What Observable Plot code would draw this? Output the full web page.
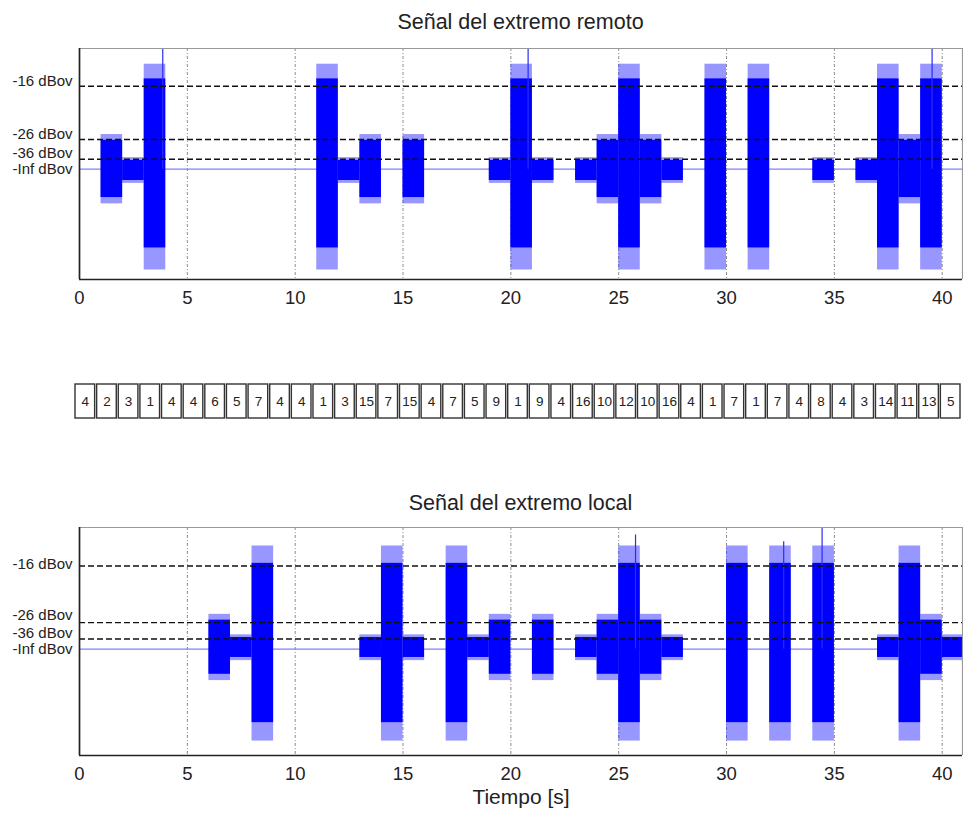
<!DOCTYPE html>
<html><head><meta charset="utf-8">
<script src="https://cdn.jsdelivr.net/npm/d3@7"></script>
<script src="https://cdn.jsdelivr.net/npm/@observablehq/plot@0.6"></script>
<style>
body{margin:0;background:#fff}
#c{position:relative;width:963px;height:817px;overflow:hidden;background:#fff;font-family:"Liberation Sans",Arial,sans-serif;color:#222}
.t{position:absolute;left:79px;width:883px;text-align:center;font-size:21.5px;line-height:24px;z-index:2}
.p{position:absolute;left:0;z-index:1}
</style></head><body>
<div id="c">
<div class="p" id="top" style="top:0"></div>
<div class="p" id="mid" style="top:375px"></div>
<div class="p" id="bot" style="top:480px"></div>
<div class="t" style="top:10px">Señal del extremo remoto</div>
<div class="t" style="top:491px">Señal del extremo local</div>
</div>
<script>
// ---- data ----
const xTicks = [0, 5, 10, 15, 20, 25, 30, 35, 40];
const xMax = 40.94;
// level code per 1-second window (0 silence, 1 low, 2 mid, 3 loud)
const remoteLevel = [0,2,1,3,0,0,0,0,0,0,0,3,1,2,0,2,0,0,0,1,3,1,0,1,2,3,2,1,0,3,0,3,0,0,1,0,1,3,2,3,0];
const localLevel  = [0,0,0,0,0,0,2,1,3,0,0,0,0,1,3,1,0,3,1,2,0,2,0,1,2,3,2,1,0,0,3,0,3,0,3,0,0,1,3,2,1];
// envelopes by level code (linear amplitude)
const remoteHigh = [0, 0.0166, 0.055, 0.172];
const remoteLow = [0, -0.0215, -0.054, -0.150];
const remoteSpikeHigh = [0, 0.022, 0.066, 0.200];
const remoteSpikeLow = [0, -0.027, -0.066, -0.192];
const localHigh = [0, 0.022, 0.055, 0.163];
const localLow = [0, -0.016, -0.048, -0.140];
const localSpikeHigh = [0, 0.027, 0.066, 0.196];
const localSpikeLow = [0, -0.022, -0.060, -0.175];
const remotePeaks = [[3.86, 0.23], [20.8, 0.23], [39.53, 0.23]];
const localPeaks = [[34.43, 0.231], [25.78, 0.217], [32.65, 0.204]];
const thrLabels = ["-16 dBov", "-26 dBov", "-36 dBov"];
const infLabel = "-Inf dBov";
const remoteThr = [0.158, 0.0566, 0.019];
const localThr = [0.158, 0.0503, 0.019];
const remoteDomain = [-0.2101, 0.2299];
const localDomain = [-0.2025, 0.2312];
const boxValues = [4,2,3,1,4,4,6,5,7,4,4,1,3,15,7,15,4,7,5,9,1,9,4,16,10,12,10,16,4,1,7,1,7,4,8,4,3,14,11,13,5];

const FONT = '"Liberation Sans", Arial, sans-serif';

function panel(o) {
  const segs = o.levels.map((lv, t) => ({t, lv})).filter(d => d.lv > 0);
  const lab = o.thr.map((v, i) => ({v, text: thrLabels[i]}));
  const marks = [
    Plot.ruleX(xTicks.slice(1), {stroke: "#808080", strokeDasharray: "3,2,1,2", strokeWidth: 0.9}),
    Plot.ruleY([0], {stroke: "#8080ff", strokeWidth: 1.3}),
    Plot.rect(segs, {x1: d => d.t, x2: d => d.t + 1, y1: d => o.spikeLow[d.lv], y2: d => o.spikeHigh[d.lv], fill: "#3030ff", fillOpacity: 0.5, clip: true}),
    Plot.rect(segs, {x1: d => d.t, x2: d => d.t + 1, y1: d => o.low[d.lv], y2: d => o.high[d.lv], fill: "#0000ff", clip: true}),
    Plot.ruleX(o.peaks, {x: d => d[0], y1: 0, y2: d => d[1], stroke: "#2a2aff", strokeWidth: 1.2}),
    Plot.ruleY(o.thr, {stroke: "#111", strokeDasharray: "6,3", strokeWidth: 1.4}),
    Plot.ruleX([xMax], {stroke: "#999", strokeWidth: 1.2}),
    Plot.ruleY([o.domain[1]], {stroke: "#999", strokeWidth: 1.2}),
    Plot.ruleX([0], {stroke: "#222", strokeWidth: 1.7}),
    Plot.ruleY([o.domain[0]], {stroke: "#222", strokeWidth: 1.7}),
    Plot.axisX(xTicks, {tickSize: 0, tickPadding: 11, fontSize: 18.5, fill: "#222", label: null}),
  ];
  lab.forEach((d, i) => {
    marks.push(Plot.text([d], {y: "v", text: "text", frameAnchor: "left", textAnchor: "end", dx: -7, dy: o.labelDy[i], fontSize: 15, fill: "#222"}));
  });
  marks.push(Plot.text([{v: 0, text: infLabel}], {y: "v", text: "text", frameAnchor: "left", textAnchor: "end", dx: -7, dy: 0, fontSize: 15, fill: "#222"}));
  if (o.xlabel) marks.push(Plot.text([o.xlabel], {frameAnchor: "bottom", dy: 48, fontSize: 21, fill: "#222"}));
  return Plot.plot({
    width: 963, height: o.height,
    marginLeft: 79, marginRight: 1, marginTop: o.marginTop, marginBottom: o.marginBottom,
    style: {background: "transparent", fontFamily: FONT},
    x: {domain: [0, xMax]},
    y: {domain: o.domain, axis: null},
    marks
  });
}

document.getElementById("top").appendChild(panel({
  levels: remoteLevel, low: remoteLow, high: remoteHigh, spikeLow: remoteSpikeLow, spikeHigh: remoteSpikeHigh,
  peaks: remotePeaks, thr: remoteThr, domain: remoteDomain, labelDy: [-5, -5, -6],
  height: 320, marginTop: 48, marginBottom: 41
}));

document.getElementById("bot").appendChild(panel({
  levels: localLevel, low: localLow, high: localHigh, spikeLow: localSpikeLow, spikeHigh: localSpikeHigh,
  peaks: localPeaks, thr: localThr, domain: localDomain, labelDy: [-2, -7, -6],
  height: 337, marginTop: 47, marginBottom: 62, xlabel: "Tiempo [s]"
}));

const boxes = boxValues.map((v, i) => ({i, v}));
document.getElementById("mid").appendChild(Plot.plot({
  width: 963, height: 50, marginTop: 8, marginBottom: 6, marginLeft: 74, marginRight: 2,
  style: {background: "transparent", fontFamily: FONT},
  x: {type: "band", domain: boxes.map(d => d.i), range: [74, 961], padding: 0, round: false, axis: null},
  marks: [
    Plot.cell(boxes, {x: "i", fill: "white", stroke: "#333", strokeWidth: 1.4, inset: 1}),
    Plot.text(boxes, {x: "i", text: d => String(d.v), frameAnchor: "middle", fontSize: 13.5, fill: "#222"})
  ]
}));
</script>
</body></html>
